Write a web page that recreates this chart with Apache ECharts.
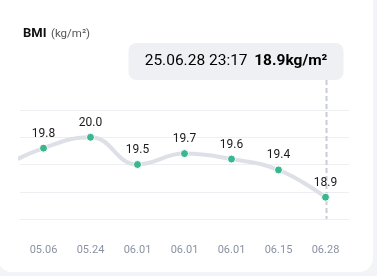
<!DOCTYPE html>
<html><head><meta charset="utf-8">
<script src="https://cdn.jsdelivr.net/npm/echarts@6/dist/echarts.min.js"></script>
<style>
html,body{margin:0;padding:0;width:377px;height:276px;background:#f3f4f7;overflow:hidden}
#card{position:absolute;left:-2px;top:-20px;width:375px;height:292px;background:#fff;border-radius:14px}
#c{position:absolute;left:0;top:0;width:377px;height:276px}
</style></head>
<body><div id="card"></div><div id="c"></div>
<script>
// previous (off-screen) point first, then the 7 visible points
const categories = ['05.01', '05.06', '05.24', '06.01', '06.01', '06.01', '06.15', '06.28'];
const bmiValues = [19.4, 19.8, 20.0, 19.5, 19.7, 19.6, 19.4, 18.9];
const yTicks = [18.5, 19.0, 19.5, 20.0, 20.5];
const tipTime = '25.06.28 23:17';
const tipValue = '18.9kg/m²';
const selIndex = 7;

const chart = echarts.init(document.getElementById('c'), null, {renderer: 'canvas'});
const FONT = 'Roboto, "Noto Sans", sans-serif';
chart.setOption({
  animation: false,
  textStyle: {fontFamily: FONT},
  title: {
    left: 18, top: 20,
    text: '{a|BMI} {b|(kg/m²)}',
    textStyle: {fontWeight: 'normal', rich: {
      a: {fontSize: 13, fontWeight: 'bold', color: '#111', fontFamily: FONT},
      b: {fontSize: 11.5, fontWeight: 'normal', color: '#555', fontFamily: FONT}
    }}
  },
  grid: {left: 20, right: 28, top: 110, bottom: 57, containLabel: false},
  xAxis: {
    type: 'category', data: categories, min: 1, boundaryGap: true,
    axisLine: {show: false}, axisTick: {show: false},
    axisLabel: {color: '#8a93a3', fontSize: 11, margin: 26, fontFamily: FONT},
    splitLine: {show: false}
  },
  yAxis: {
    type: 'value', min: yTicks[0], max: yTicks[yTicks.length - 1], interval: 0.5,
    axisLabel: {show: false}, axisLine: {show: false}, axisTick: {show: false},
    splitLine: {lineStyle: {color: '#eeeff2', width: 1}}
  },
  series: [{
    type: 'line', data: bmiValues, smooth: 0.45, clip: true,
    symbol: 'circle', symbolSize: 8, showAllSymbol: true,
    lineStyle: {color: '#dde0e6', width: 4},
    itemStyle: {color: '#3bb78f', borderColor: '#fff', borderWidth: 1},
    label: {show: true, position: 'top', distance: 4, color: '#1a1a1a', fontSize: 12, fontFamily: FONT,
      formatter: p => p.value.toFixed(1)}
  }]
});

const px = chart.convertToPixel({xAxisIndex: 0, yAxisIndex: 0}, [selIndex, bmiValues[selIndex]]);
const bottomPx = chart.convertToPixel({yAxisIndex: 0}, yTicks[0]);
const lx = Math.round(px[0]) + 0.5;
const boxRight = lx + 17, boxW = 215, boxTop = 43, boxH = 37;
chart.setOption({
  graphic: [
    {type: 'line', z: 1, shape: {x1: lx, y1: boxTop + boxH, x2: lx, y2: bottomPx},
     style: {stroke: '#c9cdd3', lineWidth: 2, lineDash: [5, 3]}},
    {type: 'rect', z: 10, shape: {x: boxRight - boxW, y: boxTop, width: boxW, height: boxH, r: 8},
     style: {fill: '#eff0f3'}},
    {type: 'text', z: 11, x: boxRight - boxW / 2, y: boxTop + boxH / 2,
     style: {text: '{t|' + tipTime + '}  {v|' + tipValue + '}', align: 'center', verticalAlign: 'middle',
       rich: {
         t: {fontSize: 15.5, color: '#6b6e75', fontFamily: FONT},
         v: {fontSize: 15.5, fontWeight: 'bold', color: '#111', fontFamily: FONT}
       }}}
  ]
});
</script>
</body></html>
